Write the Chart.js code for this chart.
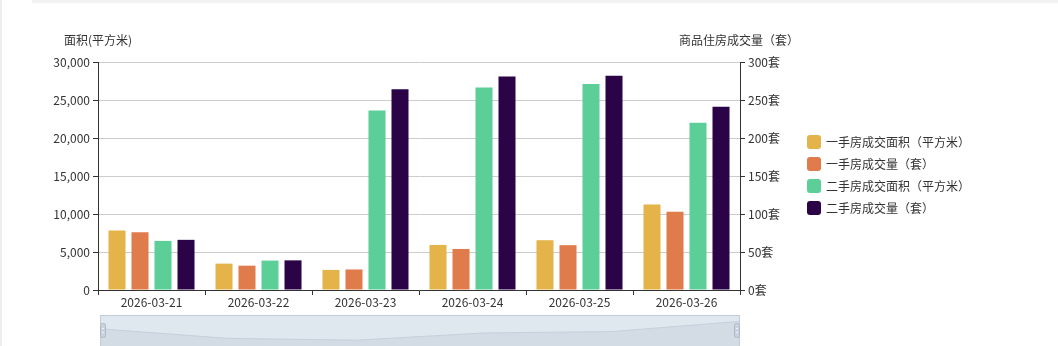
<!DOCTYPE html>
<html>
<head>
<meta charset="utf-8">
<script src="https://cdn.jsdelivr.net/npm/chart.js@4/dist/chart.umd.min.js"></script>
<style>
  html, body { margin: 0; padding: 0; background: #fff; }
  body { width: 1058px; height: 346px; position: relative; overflow: hidden;
         font-family: "Microsoft YaHei", "Noto Sans CJK SC", sans-serif; }
  #topband { position: absolute; left: 32px; top: 0; width: 1026px; height: 3px; background: #f2f2f2; }
  #leftline { position: absolute; left: 0; top: 0; width: 2px; height: 346px; background: #eeeeee; }
  #main { position: absolute; left: 0; top: 0; }
  #zoom { position: absolute; left: 100px; top: 315px; }
  #legend { position: absolute; left: 807px; top: 131px; font-size: 12px; color: #333; }
  #legend div { height: 22px; line-height: 22px; white-space: nowrap; }
  #legend span { display: inline-block; width: 14px; height: 14px; border-radius: 3px;
                 vertical-align: -2px; margin-right: 5px; }
</style>
</head>
<body>
<div id="leftline"></div>
<div id="topband"></div>
<canvas id="main" width="1058" height="346"></canvas>
<canvas id="zoom" width="640" height="31"></canvas>
<div id="legend"></div>
<script>
const dates = ['2026-03-21', '2026-03-22', '2026-03-23', '2026-03-24', '2026-03-25', '2026-03-26'];
const newArea = [7820, 3470, 2640, 5930, 6550, 11250];     // 一手房成交面积（平方米）
const newCount = [76, 32, 27, 54, 59, 103];                 // 一手房成交量（套）
const usedArea = [6460, 3870, 23630, 26660, 27100, 22010];  // 二手房成交面积（平方米）
const usedCount = [66, 39, 264, 281, 282, 241];             // 二手房成交量（套）
const leftTicks = [0, 5000, 10000, 15000, 20000, 25000, 30000];
const rightTicks = [0, 50, 100, 150, 200, 250, 300];

const colors = ['#e4b44a', '#e07b4b', '#5bcf97', '#2b0448'];
const FONT = '"Microsoft YaHei", "Noto Sans CJK SC", sans-serif';
Chart.defaults.font.family = FONT;
Chart.defaults.font.size = 12;
Chart.defaults.color = '#333';

const series = [
    { label: '一手房成交面积（平方米）', data: newArea, yAxisID: 'yArea' },
    { label: '一手房成交量（套）', data: newCount, yAxisID: 'yCount' },
    { label: '二手房成交面积（平方米）', data: usedArea, yAxisID: 'yArea' },
    { label: '二手房成交量（套）', data: usedCount, yAxisID: 'yCount' }
];

// axis names sit above each y axis
const axisNames = {
    id: 'axisNames',
    afterDraw(chart) {
        const ctx = chart.ctx;
        const area = chart.chartArea;
        ctx.save();
        ctx.font = '12px ' + FONT;
        ctx.fillStyle = '#333';
        ctx.textBaseline = 'middle';
        ctx.textAlign = 'center';
        ctx.fillText('面积(平方米)', area.left, 40);
        ctx.fillText('商品住房成交量（套）', area.right - 1, 40);
        ctx.restore();
    }
};

new Chart(document.getElementById('main'), {
    type: 'bar',
    data: {
        labels: dates,
        datasets: series.map((s, i) => ({
            label: s.label,
            data: s.data,
            yAxisID: s.yAxisID,
            backgroundColor: colors[i],
            categoryPercentage: 0.86,
            barPercentage: 0.74
        }))
    },
    options: {
        responsive: false,
        animation: false,
        layout: { padding: { left: 0, right: 268, top: 62, bottom: 26 } },
        plugins: { legend: { display: false }, tooltip: { enabled: false } },
        scales: {
            x: {
                grid: { offset: true, drawOnChartArea: false, color: '#333', tickLength: 5 },
                border: { color: '#333' },
                ticks: { padding: 0, maxRotation: 0 },
                afterFit(scale) { scale.height = 30; }
            },
            yArea: {
                position: 'left',
                min: 0, max: 30000,
                afterBuildTicks(scale) { scale.ticks = leftTicks.map(v => ({ value: v })); },
                ticks: { padding: 3, callback: v => v.toLocaleString('en-US') },
                grid: { color: '#cccccc', tickLength: 5, tickColor: '#333' },
                border: { color: '#333' },
                afterFit(scale) { scale.width = 98; }
            },
            yCount: {
                position: 'right',
                min: 0, max: 300,
                afterBuildTicks(scale) { scale.ticks = rightTicks.map(v => ({ value: v })); },
                ticks: { padding: 3, callback: v => v + '套' },
                grid: { drawOnChartArea: false, tickLength: 5, color: '#333' },
                border: { color: '#333' },
                afterFit(scale) { scale.width = 50; }
            }
        }
    },
    plugins: [axisNames]
});

// legend list
const legend = document.getElementById('legend');
series.forEach((s, i) => {
    const row = document.createElement('div');
    row.innerHTML = '<span style="background:' + colors[i] + '"></span>' + s.label;
    legend.appendChild(row);
});

// slider strip under the chart, shadow drawn from the first series
const sliderFrame = {
    id: 'sliderFrame',
    beforeDraw(chart) {
        const ctx = chart.ctx;
        ctx.save();
        ctx.fillStyle = '#dfe7ef';
        ctx.fillRect(0, 0, chart.width, chart.height);
        ctx.restore();
    },
    afterDraw(chart) {
        const ctx = chart.ctx;
        ctx.save();
        ctx.strokeStyle = '#c3ccd8';
        ctx.lineWidth = 1;
        ctx.strokeRect(0.5, 0.5, chart.width - 1, chart.height);
        [0, chart.width - 6].forEach(x => {
            ctx.fillStyle = '#c9d2de';
            ctx.strokeStyle = '#aeb8c6';
            ctx.beginPath();
            ctx.roundRect(x + 0.5, 8.5, 5, 14, 2);
            ctx.fill();
            ctx.stroke();
            ctx.fillStyle = '#eef2f6';
            ctx.fillRect(x + 2, 13, 2, 1);
            ctx.fillRect(x + 2, 17, 2, 1);
        });
        ctx.restore();
    }
};

new Chart(document.getElementById('zoom'), {
    type: 'line',
    data: {
        labels: dates,
        datasets: [{
            data: newArea,
            borderColor: '#c6d0db',
            borderWidth: 1,
            backgroundColor: '#d3dce5',
            fill: 'origin',
            pointRadius: 0,
            tension: 0
        }]
    },
    options: {
        responsive: false,
        animation: false,
        layout: { padding: 0 },
        plugins: { legend: { display: false }, tooltip: { enabled: false } },
        scales: {
            x: { display: false, offset: false },
            y: { display: false, min: 0, max: 14100 }
        }
    },
    plugins: [sliderFrame]
});
</script>
</body>
</html>
